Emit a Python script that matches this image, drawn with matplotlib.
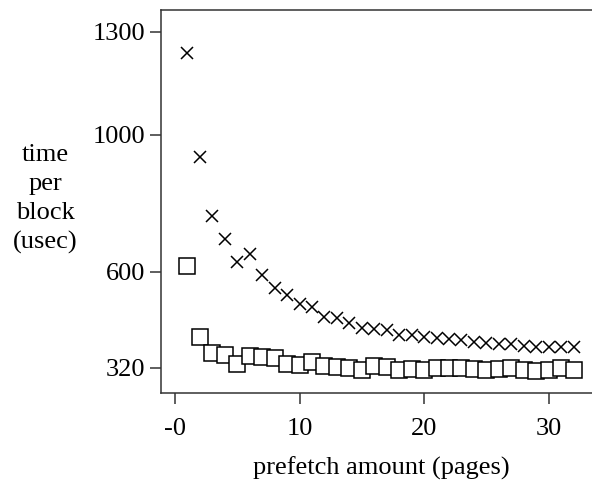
import matplotlib
matplotlib.use("Agg")
import matplotlib.pyplot as plt

plt.rcParams['font.family'] = ['Liberation Serif', 'DejaVu Serif']

pages = list(range(1, 33))
time_x = [1239, 935, 763, 695, 630, 652, 591, 552, 533, 506, 497, 470, 466, 452,
          436, 433, 431, 416, 416, 409, 408, 404, 402, 397, 394, 390, 390, 385,
          382, 382, 380, 382]
time_sq = [618, 411, 365, 358, 332, 356, 353, 350, 332, 329, 337, 326, 324, 321,
           314, 326, 324, 314, 317, 314, 321, 321, 321, 317, 314, 317, 321, 314,
           312, 314, 321, 314]

xticks = [0, 10, 20, 30]
xtick_labels = ['-0', '10', '20', '30']
yticks = [320, 600, 1000, 1300]
ytick_labels = ['320', '600', '1000', '1300']

fig = plt.figure(figsize=(5.92, 4.86), dpi=100)
ax = fig.add_axes([161/592, 93/486, 435/592, 383/486])

ax.plot(pages, time_x, linestyle='none', marker='x', markersize=9,
        markeredgewidth=1.1, color='black', clip_on=False)
ax.plot(pages, time_sq, linestyle='none', marker='s', markersize=11,
        markeredgewidth=1.1, markerfacecolor='white', markeredgecolor='black',
        clip_on=False)

ax.set_xlim(-1.12, 33.8)
ax.set_ylim(247, 1364)

ax.set_xticks(xticks)
ax.set_xticklabels(xtick_labels)
ax.set_yticks(yticks)
ax.set_yticklabels(ytick_labels)

ax.tick_params(axis='both', direction='out', length=8, width=1.1,
               labelsize=19, color='#333333')
ax.tick_params(axis='x', pad=10)
ax.tick_params(axis='y', pad=3.5)
ax.spines['right'].set_visible(False)
for s in ['left', 'bottom', 'top']:
    ax.spines[s].set_linewidth(1.1)
    ax.spines[s].set_color('#333333')

fig.text(45/592, 1 - 199/486, 'time\nper\nblock\n(usec)', ha='center',
         va='center', fontsize=19, linespacing=1.4)
fig.text(381/592, 1 - 468/486, 'prefetch amount (pages)', ha='center',
         va='center', fontsize=19)

fig.savefig('out.png', dpi=100)
